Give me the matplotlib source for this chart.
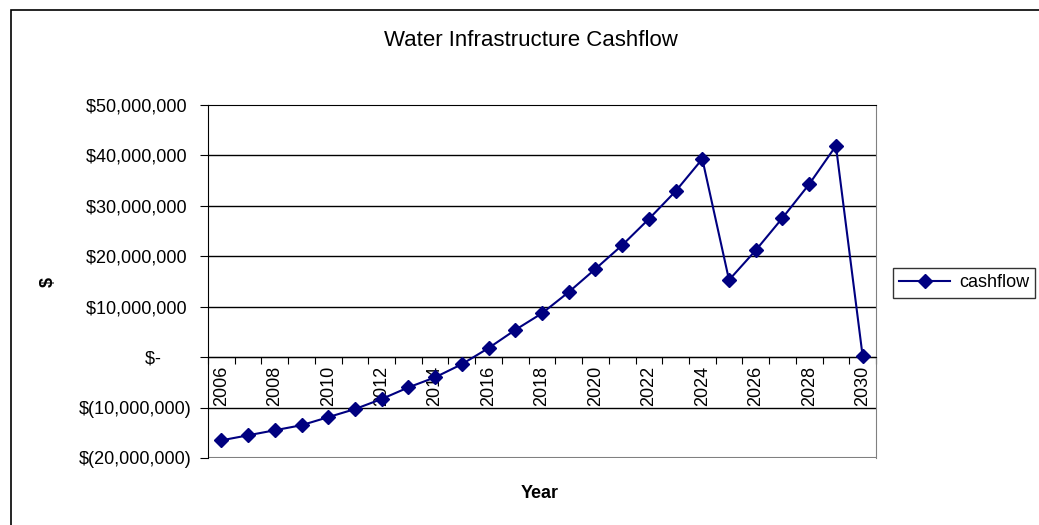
import matplotlib
matplotlib.use("Agg")
import matplotlib.pyplot as plt
import numpy as np
from matplotlib.patches import Rectangle
from matplotlib.ticker import FuncFormatter

plt.rcParams['font.family'] = ['Liberation Sans', 'DejaVu Sans']

years = list(range(2006, 2031))
cashflow = [-16.5e6, -15.5e6, -14.5e6, -13.5e6, -11.9e6, -10.3e6, -8.3e6, -6.0e6,
            -4.0e6, -1.4e6, 1.8e6, 5.4e6, 8.7e6, 12.9e6, 17.5e6, 22.2e6, 27.4e6,
            32.9e6, 39.3e6, 15.3e6, 21.2e6, 27.6e6, 34.3e6, 41.9e6, 0.2e6]
yticks = [-20e6, -10e6, 0, 10e6, 20e6, 30e6, 40e6, 50e6]

W, H = 1039, 525
fig = plt.figure(figsize=(W / 100, H / 100), dpi=100)
fig.patch.set_facecolor('white')

# figure frame (top/left visible, extends past right/bottom)
fig.add_artist(Rectangle((11 / W, -0.05), 1.2, 1 - 10 / H + 0.05, transform=fig.transFigure,
                         fill=False, edgecolor='black', lw=1.2))

left, right, top, bottom = 208 / W, 876 / W, 1 - 105 / H, 1 - 458 / H
ax = fig.add_axes([left, bottom, right - left, top - bottom])

x = np.arange(len(years))
ax.plot(x, cashflow, color='#000080', lw=1.5, marker='D', markersize=7,
        markerfacecolor='#000080', markeredgecolor='#000080', label='cashflow', zorder=3)

ax.set_xlim(-0.5, len(years) - 0.5)
ax.set_ylim(yticks[0], yticks[-1])

for v in yticks[1:-1]:
    ax.axhline(v, color='black', lw=1, zorder=1)

ax.spines['bottom'].set_position(('data', 0))
ax.spines['bottom'].set_color('black')
ax.spines['left'].set_color('black')
ax.spines['top'].set_color('black')
ax.spines['right'].set_color('#808080')
ax.axhline(yticks[0], color='#808080', lw=1.5, zorder=1)

ax.set_yticks(yticks)

def fmt(v, pos):
    if v == 0:
        return '$-      '
    if v < 0:
        return '$(' + format(int(-v), ',') + ')'
    return '$' + format(int(v), ',') + ' '

ax.yaxis.set_major_formatter(FuncFormatter(fmt))
ax.tick_params(axis='y', direction='out', length=6, labelsize=13, pad=6)

ax.set_xticks(np.arange(-0.5, len(years), 1.0))
ax.set_xticklabels([])
ax.tick_params(axis='x', which='major', direction='out', length=5, color='black')
label_idx = x[::2]
ax.set_xticks(label_idx, minor=True)
ax.set_xticklabels([str(years[i]) for i in label_idx], minor=True, rotation=90,
                   fontsize=13)
ax.tick_params(axis='x', which='minor', length=0, pad=6)

fig.text(531 / W, 1 - 40 / H, 'Water Infrastructure Cashflow', ha='center', va='center',
         fontsize=16)
fig.text(540 / W, 1 - 493 / H, 'Year', ha='center', va='center', fontsize=13,
         fontweight='bold')
fig.text(48 / W, 1 - 282 / H, '$', ha='center', va='center', fontsize=13,
         fontweight='bold', rotation=90)

leg = fig.legend(loc='center left', bbox_to_anchor=(893 / W, 1 - 283 / H), fontsize=13,
                 frameon=True, fancybox=False, shadow=False, handlelength=2.8,
                 borderpad=0.35, handletextpad=0.5, borderaxespad=0)
leg.get_frame().set_edgecolor('black')
leg.get_frame().set_linewidth(1)

fig.savefig('out.png', dpi=100)
